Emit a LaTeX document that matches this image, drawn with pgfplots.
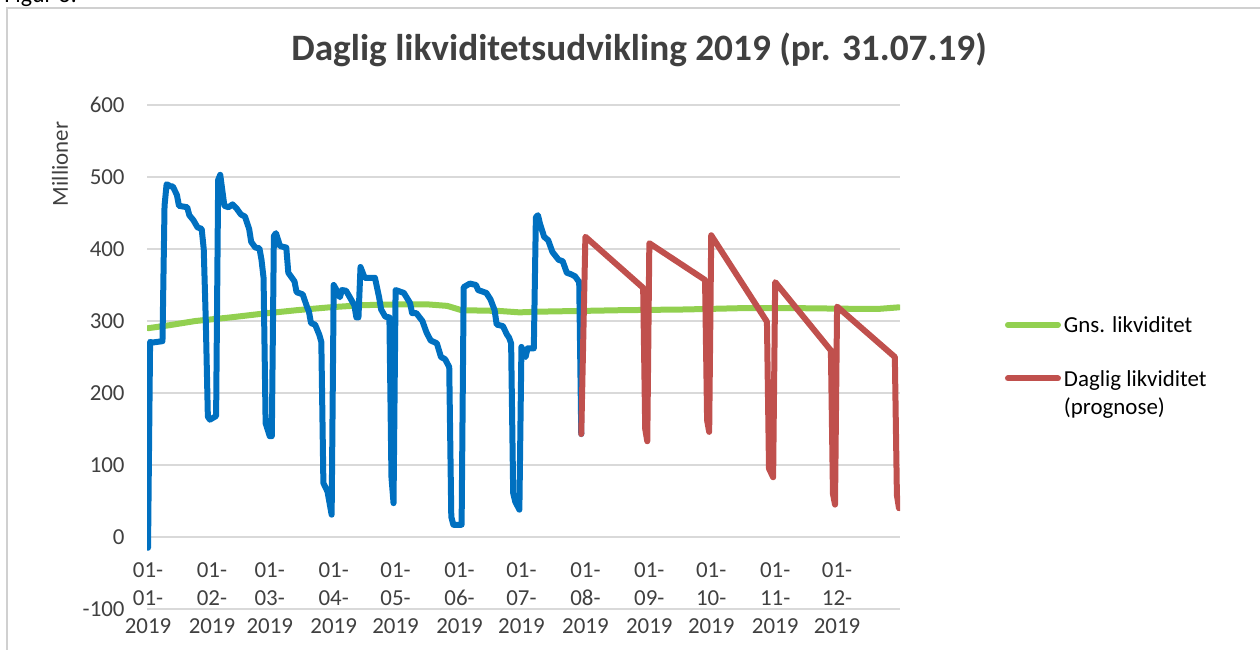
\documentclass[border=0pt]{standalone}
\usepackage{pgfplots}
\pgfplotsset{compat=1.18}
\usepackage{fontspec}
\setmainfont{Carlito}
\definecolor{cblue}{HTML}{0070C0}
\definecolor{cgreen}{HTML}{92D050}
\definecolor{cred}{HTML}{C0504D}
\definecolor{gridgray}{HTML}{D9D9D9}
\definecolor{framegray}{HTML}{D0D0D0}
\definecolor{labelgray}{HTML}{404040}
\begin{document}
\begin{tikzpicture}
\clip (0bp,0bp) rectangle (630bp,325bp);
\draw[framegray, line width=0.75bp] (3.5bp,0bp) -- (3.5bp,321bp) -- (630bp,321bp);
\node[anchor=base west, inner sep=0pt, font=\fontsize{12}{14}\selectfont, text=black] at (2bp,323.6bp) {Figur 3:};
\begin{axis}[
  at={(73.5bp,20.5bp)}, anchor=south west,
  scale only axis, width=376.5bp, height=252bp,
  xmin=-0.5, xmax=364.5, ymin=-100, ymax=600,
  ytick={-100,0,100,200,300,400,500,600},
  xtick={0,31,59,90,120,151,181,212,243,273,304,334},
  xticklabels={{01-\\01-\\2019},{01-\\02-\\2019},{01-\\03-\\2019},{01-\\04-\\2019},{01-\\05-\\2019},{01-\\06-\\2019},{01-\\07-\\2019},{01-\\08-\\2019},{01-\\09-\\2019},{01-\\10-\\2019},{01-\\11-\\2019},{01-\\12-\\2019}},
  axis lines*=left, axis line style={draw=none}, tick style={draw=none},
  ymajorgrids, grid style={gridgray, line width=0.75bp},
  /pgf/number format/assume math mode=true,
  ticklabel style={font=\fontsize{11.5}{14}\selectfont, text=labelgray},
  xticklabel style={align=center, inner sep=0pt, anchor=north, yshift=23.5bp},
  yticklabel style={anchor=east, inner sep=0pt, xshift=-11bp},
  ylabel={Millioner},
  ylabel style={at={(axis description cs:-0.1155,0.883)}, anchor=center, font=\fontsize{11.5}{14}\selectfont, text=labelgray},
  title={Daglig likviditetsudvikling 2019 (pr. 31.07.19)},
  title style={at={(axis description cs:0.6534,1.085)}, anchor=center, font=\fontsize{18.7}{22}\selectfont\bfseries, text=labelgray},
  legend style={draw=none, fill=none, inner sep=0pt, outer sep=0pt, at={(1.1394,0.5865)}, anchor=north west, row sep=15.5bp, column sep=1.5bp, nodes={anchor=base west, inner sep=0pt, font=\fontsize{11.5}{14}\selectfont, text=black}},
  legend image code/.code={\draw[#1, line cap=round] (1.25bp,4bp) -- (26.25bp,4bp);},
  every axis plot/.append style={line width=3bp, line join=round, line cap=round, mark=none},
]
\addplot[cgreen] coordinates {
(0,290) (10,294) (23,300) (40,305) (55,310) (72,315) (88,319) (104,322) (120,323) (136,323) (145,321) (152,315) (170,314) (180,312) (190,313) (210,314) (229,315) (260,316) (290,318) (310,318) (340,317) (355,317) (364,319)
};
\addlegendentry{\begin{tabular}[t]{@{}l@{}}Gns. likviditet\end{tabular}}
\addplot[cblue, forget plot] coordinates {
(0,-15) (1,271) (2,270) (7,272) (8,460) (9,490) (11,487) (12,487) (14,475) (15,460) (19,458) (20,447) (22,440) (24,430) (26,428) (27,400) (28,300) (29,167) (30,163) (33,168) (34,496) (35,503) (37,460) (39,458) (41,462) (43,456) (45,448) (47,445) (49,428) (50,410) (52,402) (54,401) (55,385) (56,360) (57,158) (59,140) (60,140) (61,418) (62,422) (64,404) (67,402) (68,367) (71,355) (72,340) (75,337) (77,320) (78,313) (79,297) (81,295) (83,281) (84,271) (85,75) (87,63) (89,31) (90,350) (91,345) (93,333) (94,343) (96,342) (98,332) (100,322) (101,305) (102,305) (103,375) (105,360) (110,360) (112,333) (113,316) (115,306) (117,305) (118,83) (119,47) (120,343) (124,339) (127,325) (128,311) (130,311) (133,300) (135,284) (137,273) (140,269) (142,250) (144,247) (146,236) (147,28) (148,17) (152,17) (153,347) (156,352) (159,350) (160,343) (163,340) (164,339) (166,330) (168,315) (169,295) (172,293) (174,281) (175,277) (176,269) (177,61) (178,49) (180,38) (181,264) (182,255) (183,250) (184,262) (187,262) (188,444) (189,447) (190,435) (192,417) (194,412) (196,396) (199,385) (201,383) (203,367) (205,365) (207,362) (209,354) (210,143)
};
\addplot[cred] coordinates {
(210,143) (212,417) (240,346) (241,150) (242,133) (243,408) (270,357) (271,162) (272,146) (273,419) (300,299) (301,95) (303,83) (304,354) (331,259) (332,60) (333,45) (334,320) (362,250) (363,58) (364,40)
};
\addlegendentry{\begin{tabular}[t]{@{}l@{}}Daglig likviditet\\(prognose)\end{tabular}}
\end{axis}
\end{tikzpicture}
\end{document}
